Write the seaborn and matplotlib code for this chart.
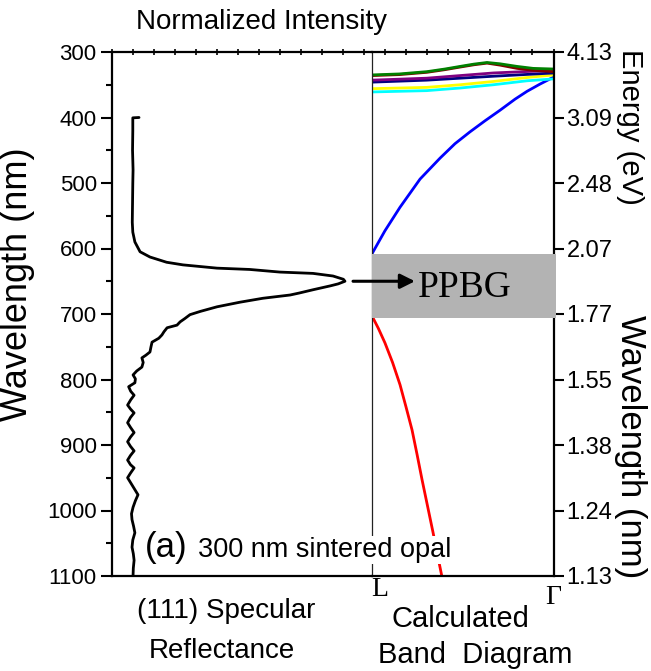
import matplotlib
matplotlib.use("Agg")
import matplotlib.pyplot as plt
import seaborn as sns
import pandas as pd
from matplotlib.patches import Rectangle

# ---------------- data ----------------
refl_nm = [400, 400.5, 420, 450, 480, 500, 530, 560, 575, 590, 605, 613, 621, 625, 630, 632,
           636, 638, 642, 647, 650, 654, 657, 663, 668, 671, 676, 682, 689, 696, 701, 707,
           712, 717, 721, 727, 732, 737, 743, 750, 758, 763, 767, 774, 781, 787, 793, 799,
           805, 811, 818, 824, 831, 839, 845, 851, 858, 866, 873, 881, 888, 895, 902, 909,
           916, 923, 930, 935, 943, 950, 963, 976, 985, 995, 1005, 1014, 1024, 1034, 1045,
           1056, 1066, 1076, 1088, 1099]
refl_int = [0.104, 0.080, 0.080, 0.079, 0.081, 0.080, 0.079, 0.078, 0.080, 0.088, 0.108, 0.146,
            0.210, 0.273, 0.404, 0.530, 0.646, 0.773, 0.850, 0.890, 0.896, 0.870, 0.840, 0.773,
            0.720, 0.685, 0.580, 0.492, 0.404, 0.340, 0.300, 0.280, 0.262, 0.250, 0.212, 0.200,
            0.192, 0.180, 0.154, 0.150, 0.146, 0.130, 0.115, 0.120, 0.115, 0.095, 0.081, 0.090,
            0.088, 0.064, 0.072, 0.085, 0.072, 0.060, 0.071, 0.085, 0.071, 0.060, 0.071, 0.085,
            0.071, 0.060, 0.071, 0.085, 0.071, 0.060, 0.071, 0.085, 0.071, 0.060, 0.080, 0.100,
            0.090, 0.081, 0.075, 0.077, 0.083, 0.088, 0.080, 0.077, 0.082, 0.085, 0.082, 0.081]

blue_k = [0.0, 0.071, 0.154, 0.264, 0.374, 0.456, 0.538, 0.621, 0.703, 0.786, 0.852, 0.923, 1.0]
blue_nm = [608, 573, 537, 494, 462, 440, 422, 405, 389, 372, 360, 349, 338]
red_k = [0.0, 0.035, 0.071, 0.113, 0.154, 0.187, 0.220, 0.248, 0.275, 0.305, 0.335, 0.360,
         0.385, 0.40]
red_nm = [703, 722, 744, 774, 808, 842, 877, 915, 953, 993, 1033, 1068, 1102, 1125]
green_k = [0.0, 0.15, 0.302, 0.40, 0.484, 0.56, 0.632, 0.703, 0.797, 0.885, 1.0]
green_nm = [335, 333.5, 330, 326, 322, 318.5, 316, 318, 322, 325, 326]
maroon_k = [0.0, 0.15, 0.302, 0.40, 0.484, 0.56, 0.632, 0.703, 0.797, 0.885, 1.0]
maroon_nm = [336, 334.5, 331, 327, 323, 319.5, 317, 320, 325, 328, 330]
purple_k = [0.0, 0.30, 0.667, 1.0]
purple_nm = [343, 340, 332, 328]
navy_k = [0.0, 0.30, 0.667, 1.0]
navy_nm = [346, 343, 337, 332]
yellow_k = [0.0, 0.30, 0.484, 0.667, 0.85, 1.0]
yellow_nm = [356, 354, 350, 345, 339, 335]
cyan_k = [0.0, 0.30, 0.484, 0.667, 0.85, 1.0]
cyan_nm = [361, 359, 355, 350, 344, 341]

band_colors = {"blue": "#0000ff", "red": "#ff0000", "green": "#008000", "maroon": "#800000",
               "purple": "#800080", "navy": "#000080", "yellow": "#ffff00", "cyan": "#00ffff"}

wl_ticks = [300, 400, 500, 600, 700, 800, 900, 1000, 1100]
wl_minor = [350, 450, 550, 650, 750, 850, 950, 1050]
energy_labels = ["4.13", "3.09", "2.48", "2.07", "1.77", "1.55", "1.38", "1.24", "1.13"]
gap_lo, gap_hi = 608, 706
arrow_nm = 650

# ---------------- style ----------------
sns.set_style("ticks")
plt.rcParams["font.family"] = ["Liberation Sans", "DejaVu Sans"]
for key in ("text.color", "axes.labelcolor", "xtick.color", "ytick.color", "axes.edgecolor"):
    plt.rcParams[key] = "black"

W, H = 651, 671
fig = plt.figure(figsize=(W / 100, H / 100), dpi=100)


def fr(x0, y0, x1, y1):
    return [x0 / W, 1 - y1 / H, (x1 - x0) / W, (y1 - y0) / H]


ax1 = fig.add_axes(fr(112, 52, 372, 576))
ax2 = fig.add_axes(fr(372, 52, 554, 576))

refl = pd.DataFrame({"I": refl_int, "nm": refl_nm})
sns.lineplot(data=refl, x="I", y="nm", sort=False, estimator=None, color="black",
             lw=2.0, ax=ax1)

rows = []
for name, ks, nms in [("blue", blue_k, blue_nm), ("red", red_k, red_nm),
                      ("cyan", cyan_k, cyan_nm), ("yellow", yellow_k, yellow_nm),
                      ("navy", navy_k, navy_nm), ("purple", purple_k, purple_nm),
                      ("maroon", maroon_k, maroon_nm), ("green", green_k, green_nm)]:
    for k, n in zip(ks, nms):
        rows.append({"band": name, "k": k, "nm": n})
bands = pd.DataFrame(rows)
sns.lineplot(data=bands, x="k", y="nm", hue="band", palette=band_colors, sort=False,
             estimator=None, lw=2.0, legend=False, ax=ax2)

for ax in (ax1, ax2):
    ax.set_ylim(1100, 300)
    ax.set_xlim(0, 1)
    ax.set_xlabel("")
    ax.set_ylabel("")
    ax.set_xticks([])
    for s in ax.spines.values():
        s.set_linewidth(1.6)
        s.set_color("black")

ax1.spines["right"].set_visible(False)
ax1.set_yticks(wl_ticks)
ax1.set_yticks(wl_minor, minor=True)
ax1.tick_params(axis="y", which="major", direction="out", length=8, width=1.5,
                labelsize=16, pad=3)
ax1.tick_params(axis="y", which="minor", direction="out", length=4, width=1.5)

ax2.spines["left"].set_linewidth(0.9)
ax2.spines["left"].set_color("#222222")
ax2.yaxis.tick_right()
ax2.set_yticks(wl_ticks, labels=energy_labels)
ax2.tick_params(axis="y", which="major", direction="out", length=7, width=1.5,
                labelsize=17, pad=2)

# top ticks overlay
ax0 = fig.add_axes(fr(112, 52, 553.5, 576))
ax0.set_xlim(0, 21)
ax0.patch.set_visible(False)
for s in ax0.spines.values():
    s.set_visible(False)
ax0.set_yticks([])
ax0.set_xticks(range(22))
ax0.tick_params(axis="x", top=True, bottom=False, labeltop=False, labelbottom=False,
                direction="inout", length=5, width=1.2)

# photonic pseudo band gap box
ax2.add_patch(Rectangle((0, gap_lo), 1.01, gap_hi - gap_lo, facecolor="#b3b3b3",
                        edgecolor="none", zorder=3, clip_on=False))
ax2.annotate("", xy=(0.236, arrow_nm), xycoords="data",
             xytext=(0.927, arrow_nm), textcoords=ax1.transData,
             arrowprops=dict(arrowstyle="-|>", lw=2.2, color="black", mutation_scale=22,
                             shrinkA=0, shrinkB=0),
             annotation_clip=False, zorder=5)
fig.text(465 / W, 1 - 288 / H, "PPBG", family="Liberation Serif", fontsize=27,
         ha="center", va="center")

# texts
fig.text(262 / W, 1 - 22 / H, "Normalized Intensity", fontsize=20, ha="center", va="center")
fig.text(18 / W, 1 - 284 / H, "Wavelength (nm)", fontsize=26, rotation=90,
         ha="center", va="center")
fig.text(630 / W, 1 - 127 / H, "Energy (eV)", fontsize=21, rotation=-90,
         ha="center", va="center")
fig.text(630 / W, 1 - 447 / H, "Wavelength (nm)", fontsize=25, rotation=-90,
         ha="center", va="center")
fig.text(226 / W, 1 - 611 / H, "(111) Specular", fontsize=20, ha="center", va="center")
fig.text(222 / W, 1 - 651 / H, "Reflectance", fontsize=20, ha="center", va="center")
fig.text(460 / W, 1 - 619 / H, "Calculated", fontsize=21, ha="center", va="center")
fig.text(475 / W, 1 - 655 / H, "Band  Diagram", fontsize=21, ha="center", va="center")
fig.text(380 / W, 1 - 590 / H, "L", family="Liberation Serif", fontsize=20,
         ha="center", va="center")
fig.text(553 / W, 1 - 598 / H, "Γ", family="Liberation Serif", fontsize=20,
         ha="center", va="center")
fig.text(145 / W, 1 - 548 / H, "(a)", fontsize=25, ha="left", va="center",
         bbox=dict(facecolor="white", edgecolor="none", pad=1))
fig.text(198 / W, 1 - 550 / H, "300 nm sintered opal", fontsize=19.5, ha="left",
         va="center", bbox=dict(facecolor="white", edgecolor="none", pad=1))

fig.savefig("out.png", dpi=100)
